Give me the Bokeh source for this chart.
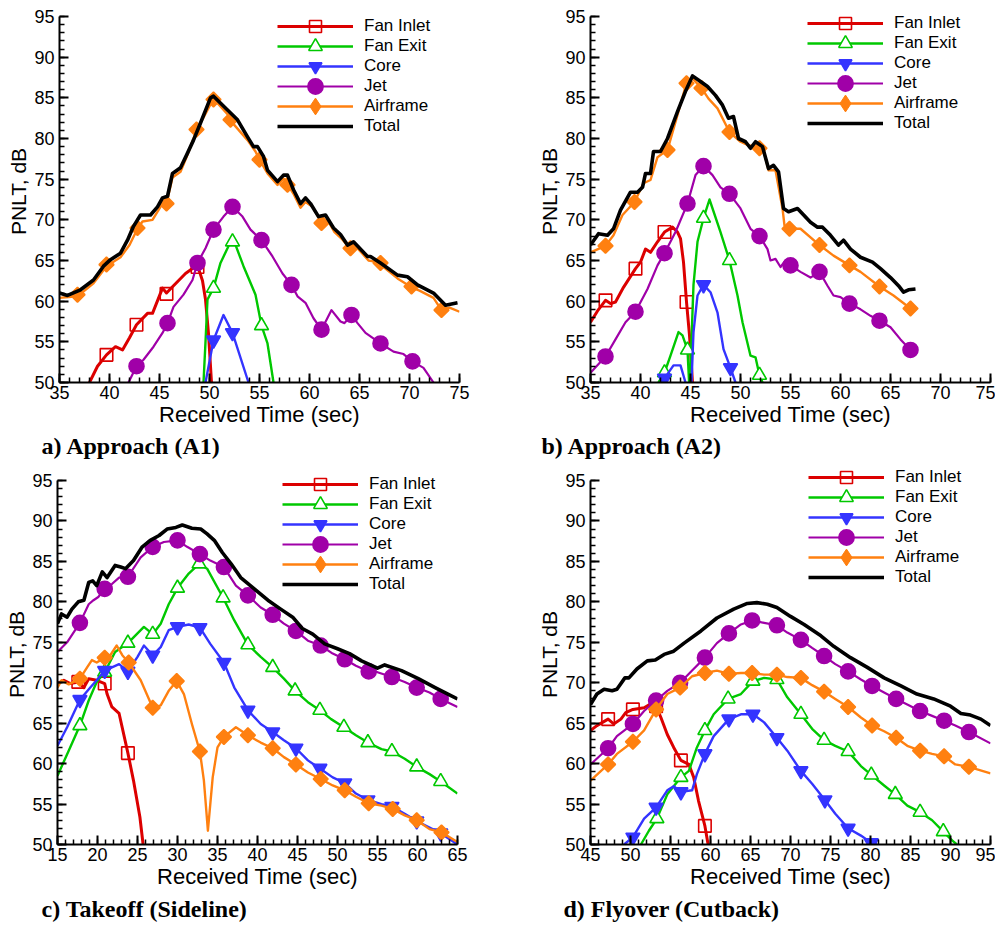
from bokeh.plotting import figure
from bokeh.models import Range1d, SingleIntervalTicker, Legend, LegendItem, Title
from bokeh.layouts import column, row
from bokeh.embed import file_html
from bokeh.resources import INLINE
import math

# ---------------- data ----------------
SERIES = ["Fan Inlet", "Fan Exit", "Core", "Jet", "Airframe", "Total"]

# Panel a) Approach (A1)
A_FI_T = [38.0, 38.8, 39.7, 40.6, 41.3, 42.0, 42.7, 43.8, 44.3, 45.3, 45.7, 46.4, 47.6, 48.4, 48.9, 49.3, 49.6, 49.9, 50.2]
A_FI_Y = [50.0, 52.0, 53.4, 54.4, 54.0, 55.5, 57.1, 58.5, 58.5, 61.6, 61.0, 61.9, 63.4, 64.1, 64.0, 62.5, 60.2, 56.0, 50.0]
A_FI_MT = [39.7, 42.7, 45.7, 48.8]
A_FI_MY = [53.4, 57.1, 60.9, 64.2]
A_FE_T = [49.4, 49.6, 49.8, 50.4, 51.1, 51.8, 52.3, 53.4, 54.6, 55.2, 55.8, 56.4]
A_FE_Y = [50.0, 55.0, 60.2, 61.6, 64.7, 66.5, 67.9, 64.3, 60.8, 57.0, 54.8, 50.0]
A_FE_MT = [50.4, 52.3, 55.2]
A_FE_MY = [61.6, 67.3, 57.0]
A_CO_T = [49.6, 50.4, 51.4, 52.3, 53.9]
A_CO_Y = [50.0, 55.2, 58.3, 56.1, 50.0]
A_CO_MT = [50.4, 52.3]
A_CO_MY = [55.2, 56.1]
A_JE_T = [41.9, 42.7, 43.4, 44.4, 45.3, 45.8, 46.4, 47.4, 48.3, 48.8, 49.6, 50.4, 51.4, 52.3, 53.3, 54.1, 55.2, 56.3,
          57.3, 58.2, 58.8, 59.6, 60.4, 61.2, 62.2, 63.1, 63.5, 64.2, 64.8, 65.6, 67.1, 68.4, 69.4, 70.3, 71.4, 72.4]
A_JE_Y = [50.0, 52.0, 52.8, 54.4, 56.1, 57.3, 59.3, 60.8, 62.6, 64.7, 66.5, 68.8, 70.4, 71.6, 70.4, 68.8, 67.5, 65.5,
          63.4, 62.0, 60.6, 59.8, 57.9, 56.5, 58.9, 57.5, 57.3, 58.3, 57.3, 56.1, 54.8, 53.8, 53.5, 52.6, 51.8, 50.0]
A_JE_MT = [42.7, 45.8, 48.8, 50.4, 52.3, 55.2, 58.2, 61.2, 64.2, 67.1, 70.3]
A_JE_MY = [52.0, 57.3, 64.7, 68.8, 71.6, 67.5, 62.0, 56.5, 58.3, 54.8, 52.6]
A_AF_T = [35.0, 36.8, 38.4, 39.7, 41.1, 42.0, 42.8, 43.3, 44.3, 45.2, 45.7, 46.3, 47.1, 47.8, 48.7, 49.5, 50.4, 51.8,
          52.1, 53.8, 54.6, 55.0, 55.8, 56.8, 57.4, 57.8, 58.4, 59.1, 59.6, 60.3, 61.2, 61.8, 62.5, 63.2, 64.1, 64.6,
          65.9, 66.4, 67.1, 68.8, 70.2, 71.0, 72.4, 73.2, 74.0, 75.0]
A_AF_Y = [60.4, 60.6, 62.2, 64.3, 65.4, 66.9, 68.9, 69.8, 70.0, 71.8, 72.0, 75.2, 75.9, 78.0, 81.0, 82.8, 84.9, 83.0,
          82.2, 79.8, 78.4, 77.4, 75.7, 74.3, 75.1, 74.4, 73.2, 71.5, 72.2, 71.6, 69.7, 70.0, 68.5, 67.7, 66.4, 66.8,
          65.0, 64.9, 64.5, 62.8, 61.7, 61.3, 60.4, 58.9, 59.2, 58.7]
A_AF_MT = [36.8, 39.7, 42.8, 45.7, 48.7, 50.4, 52.1, 55.0, 57.8, 61.2, 64.1, 67.1, 70.2, 73.2]
A_AF_MY = [60.8, 64.5, 69.0, 72.0, 81.1, 84.8, 82.3, 77.4, 74.3, 69.6, 66.5, 64.7, 61.8, 58.9]
A_TO_T = [35.0, 35.8, 37.1, 38.4, 39.4, 40.1, 41.1, 41.8, 42.4, 43.1, 44.1, 44.8, 45.3, 45.8, 46.3, 47.1, 47.8, 48.4,
          49.1, 50.1, 50.4, 51.8, 52.8, 53.8, 54.4, 54.8, 55.4, 55.8, 56.8, 57.4, 57.8, 58.4, 59.1, 59.6, 60.1, 60.9,
          61.6, 62.4, 63.1, 63.8, 64.4, 65.8, 66.1, 67.1, 68.8, 69.8, 70.8, 72.4, 73.6, 74.8]
A_TO_Y = [61.0, 60.7, 61.4, 62.6, 64.3, 65.1, 65.9, 67.5, 69.2, 70.6, 70.6, 71.6, 72.7, 72.9, 75.7, 76.4, 78.2, 79.8,
          81.9, 85.0, 85.2, 83.5, 82.3, 80.2, 79.0, 79.0, 77.8, 76.1, 74.7, 75.5, 75.5, 73.7, 72.0, 72.7, 72.0, 70.4,
          70.6, 69.0, 68.2, 66.9, 67.3, 65.5, 65.5, 64.7, 63.2, 63.0, 62.0, 61.0, 59.5, 59.8]

# Panel b) Approach (A2)
B_FI_T = [35.0, 35.7, 36.5, 37.0, 37.5, 38.3, 39.5, 40.0, 40.5, 41.0, 41.7, 42.4, 43.2, 43.7, 44.0, 44.3, 44.6, 44.9, 45.2]
B_FI_Y = [57.4, 58.8, 60.1, 59.7, 59.9, 61.7, 64.0, 64.8, 66.4, 66.0, 67.3, 68.5, 69.1, 68.5, 67.7, 64.8, 59.9, 55.8, 50.0]
B_FI_MT = [36.5, 39.5, 42.4, 44.6]
B_FI_MY = [60.1, 64.0, 68.5, 59.9]
B_FE_T = [41.8, 42.4, 43.0, 43.8, 44.2, 44.7, 44.9, 45.0, 45.3, 45.7, 46.3, 46.9, 48.0, 48.9, 49.7, 50.2, 51.0, 51.5, 51.9, 52.2]
B_FE_Y = [50.0, 51.2, 53.3, 56.2, 55.8, 54.0, 49.0, 52.0, 62.0, 67.3, 70.2, 72.5, 68.5, 65.0, 60.7, 57.4, 53.3, 53.1, 50.9, 50.0]
B_FE_MT = [42.4, 44.7, 46.3, 48.9, 51.9]
B_FE_MY = [51.2, 54.0, 70.2, 65.0, 50.9]
B_CO_T = [42.0, 42.4, 43.3, 44.0, 44.5, 44.8, 45.1, 45.3, 45.7, 46.3, 47.0, 47.7, 48.3, 49.0, 49.5]
B_CO_Y = [50.0, 50.5, 52.1, 52.1, 50.0, 47.0, 50.0, 56.2, 60.7, 62.0, 61.1, 58.6, 54.1, 51.8, 50.0]
B_CO_MT = [42.4, 46.3, 49.0]
B_CO_MY = [50.5, 62.0, 51.8]
B_JE_T = [35.0, 36.5, 37.5, 38.5, 39.5, 40.7, 41.7, 42.4, 43.5, 44.7, 45.5, 46.3, 47.2, 48.0, 48.9, 50.0, 51.0, 51.9,
          52.7, 53.0, 53.5, 54.0, 54.5, 55.0, 56.0, 57.0, 57.9, 58.7, 59.3, 60.0, 60.9, 62.0, 63.0, 63.9, 65.0, 66.0, 67.0]
B_JE_Y = [51.2, 53.2, 55.3, 57.4, 58.7, 61.5, 64.4, 65.9, 68.5, 72.0, 75.5, 76.6, 75.5, 74.0, 73.2, 71.4, 68.9, 68.0,
          66.4, 65.0, 65.2, 64.2, 65.0, 64.4, 63.6, 62.9, 63.6, 61.9, 60.7, 60.5, 59.7, 59.0, 58.2, 57.6, 56.8, 55.3, 54.0]
B_JE_MT = [36.5, 39.5, 42.4, 44.7, 46.3, 48.9, 51.9, 55.0, 57.9, 60.9, 63.9, 67.0]
B_JE_MY = [53.2, 58.7, 65.9, 72.0, 76.6, 73.2, 68.0, 64.4, 63.6, 59.7, 57.6, 54.0]
B_AF_T = [35.0, 36.5, 37.3, 38.2, 39.4, 40.3, 41.0, 41.7, 42.7, 43.7, 44.6, 45.2, 46.1, 46.8, 47.7, 48.9, 50.0, 50.7,
          51.9, 52.3, 52.8, 53.5, 54.2, 54.4, 54.9, 56.0, 57.9, 59.3, 60.9, 62.0, 63.9, 65.3, 67.0]
B_AF_Y = [66.0, 66.8, 68.1, 70.6, 72.2, 74.5, 74.9, 77.7, 78.6, 82.9, 86.8, 87.4, 86.2, 84.9, 83.7, 80.8, 79.6, 79.2,
          78.8, 78.6, 76.1, 76.1, 71.4, 69.3, 68.9, 68.9, 66.9, 65.6, 64.4, 63.6, 61.8, 60.7, 59.1]
B_AF_MT = [36.5, 39.4, 42.7, 44.6, 46.1, 48.9, 51.9, 54.9, 57.9, 60.9, 63.9, 67.0]
B_AF_MY = [66.8, 72.2, 78.6, 86.8, 86.2, 80.8, 78.8, 68.9, 66.9, 64.4, 61.8, 59.1]
B_TO_T = [35.0, 35.8, 36.7, 37.3, 38.0, 39.0, 39.7, 40.2, 40.5, 41.0, 41.3, 42.0, 42.7, 43.7, 44.5, 45.2, 46.0, 46.7,
          47.5, 48.2, 48.8, 49.3, 49.8, 50.5, 51.0, 51.5, 52.2, 52.8, 53.3, 53.8, 54.3, 54.8, 55.7, 57.0, 57.7, 58.2,
          59.0, 59.8, 60.3, 61.0, 62.0, 63.2, 64.0, 65.0, 65.8, 66.3, 66.8, 67.5]
B_TO_Y = [66.9, 68.3, 68.1, 68.9, 71.2, 73.4, 73.4, 74.0, 75.7, 75.7, 78.4, 78.4, 80.0, 83.3, 85.8, 87.7, 87.0, 86.4,
          85.3, 84.1, 82.5, 82.7, 80.0, 79.6, 78.8, 79.6, 79.0, 76.3, 76.7, 75.9, 71.4, 71.0, 71.4, 69.7, 69.1, 69.1,
          68.1, 66.9, 67.5, 66.4, 65.4, 64.8, 64.0, 62.9, 61.9, 61.1, 61.4, 61.5]

# Panel c) Takeoff (Sideline)
C_FI_T = [15.0, 15.8, 16.6, 17.6, 18.3, 18.9, 19.9, 20.9, 21.2, 21.8, 22.7, 23.8, 24.5, 25.3, 25.7]
C_FI_Y = [69.9, 70.3, 69.9, 70.1, 69.4, 70.5, 70.3, 69.9, 68.6, 67.0, 66.2, 61.3, 57.9, 53.4, 50.0]
C_FI_MT = [17.6, 20.9, 23.8]
C_FI_MY = [70.1, 69.9, 61.3]
C_FE_T = [15.0, 16.4, 17.8, 18.9, 19.9, 20.9, 22.2, 23.8, 25.8, 26.9, 27.9, 28.9, 30.0, 31.4, 32.7, 33.7, 35.7, 37.1,
          38.8, 40.4, 41.9, 43.3, 44.7, 46.3, 47.8, 49.2, 50.8, 52.3, 53.8, 55.5, 56.8, 58.4, 59.9, 61.5, 62.9, 65.0]
C_FE_Y = [58.5, 61.6, 64.7, 67.8, 70.1, 71.3, 73.8, 74.9, 76.9, 76.0, 77.3, 79.7, 81.7, 83.5, 84.7, 84.1, 80.5, 77.7,
          74.7, 73.2, 71.9, 70.5, 69.0, 67.6, 66.6, 65.5, 64.5, 63.5, 62.6, 61.8, 61.5, 60.6, 59.6, 58.7, 57.8, 56.3]
C_FE_MT = [17.8, 20.9, 23.8, 26.9, 30.0, 32.7, 35.7, 38.8, 41.9, 44.7, 47.8, 50.8, 53.8, 56.8, 59.9, 62.9]
C_FE_MY = [64.7, 71.3, 74.9, 76.0, 81.7, 84.7, 80.5, 74.7, 71.9, 69.0, 66.6, 64.5, 62.6, 61.5, 59.6, 57.8]
C_CO_T = [15.0, 16.2, 17.8, 19.1, 19.9, 20.9, 22.7, 23.8, 25.0, 25.8, 26.9, 27.9, 28.9, 30.0, 31.4, 32.8, 34.1, 35.8,
          37.1, 38.8, 40.4, 41.9, 43.3, 44.8, 46.3, 47.8, 49.4, 50.9, 52.3, 53.8, 55.5, 56.8, 58.4, 59.9, 61.5, 62.9, 65.0]
C_CO_Y = [62.2, 64.5, 67.9, 69.4, 70.3, 71.5, 72.3, 71.4, 73.2, 74.6, 73.4, 74.4, 76.5, 76.9, 77.2, 76.8, 74.8, 72.5,
          69.4, 66.6, 64.9, 63.9, 62.9, 61.9, 60.4, 59.4, 58.3, 57.6, 56.3, 55.5, 55.0, 54.7, 53.8, 52.9, 52.1, 51.4, 50.0]
C_CO_MT = [17.8, 20.9, 23.8, 26.9, 30.0, 32.8, 35.8, 38.8, 41.9, 44.8, 47.8, 50.9, 53.8, 56.8, 59.9, 62.9]
C_CO_MY = [67.9, 71.5, 71.4, 73.4, 76.9, 76.8, 72.5, 66.6, 63.9, 61.9, 59.4, 57.6, 55.5, 54.7, 52.9, 51.4]
C_JE_T = [15.0, 16.2, 17.8, 18.9, 19.5, 20.1, 20.9, 21.8, 22.7, 23.8, 25.4, 26.9, 28.3, 30.0, 31.2, 32.8, 34.1, 35.8,
          37.3, 38.8, 40.4, 41.9, 43.3, 44.8, 46.3, 47.9, 49.4, 50.9, 52.3, 53.9, 55.0, 56.8, 58.4, 59.9, 61.5, 62.9, 65.0]
C_JE_Y = [73.8, 75.0, 77.4, 79.7, 80.2, 80.6, 81.6, 82.2, 83.0, 83.1, 85.5, 86.8, 87.4, 87.6, 86.8, 85.9, 85.1, 84.3,
          82.0, 80.8, 79.3, 78.4, 77.3, 76.4, 75.2, 74.6, 73.6, 72.9, 72.1, 71.4, 71.3, 70.7, 70.1, 69.4, 68.8, 68.0, 67.0]
C_JE_MT = [17.8, 20.9, 23.8, 26.9, 30.0, 32.8, 35.8, 38.8, 41.9, 44.8, 47.9, 50.9, 53.9, 56.8, 59.9, 62.9]
C_JE_MY = [77.4, 81.6, 83.1, 86.8, 87.6, 85.9, 84.3, 80.8, 78.4, 76.4, 74.6, 72.9, 71.4, 70.7, 69.4, 68.0]
C_AF_T = [15.0, 15.5, 16.4, 17.8, 18.7, 19.3, 19.9, 20.9, 21.6, 22.4, 23.1, 23.9, 25.4, 26.9, 27.9, 28.9, 29.9, 30.8,
          31.8, 32.8, 33.3, 33.8, 34.4, 35.0, 35.8, 37.3, 38.8, 40.4, 41.9, 43.3, 44.8, 46.3, 47.9, 49.4, 50.9, 52.3,
          53.9, 55.5, 56.9, 58.4, 59.9, 61.5, 63.0, 65.0]
C_AF_Y = [69.4, 70.3, 69.8, 70.5, 71.9, 72.8, 72.5, 73.1, 73.4, 74.6, 73.4, 72.5, 70.3, 66.9, 67.2, 69.0, 70.2, 68.6,
          64.9, 61.5, 57.9, 51.7, 58.3, 62.0, 63.3, 64.5, 63.5, 62.6, 61.9, 60.8, 59.9, 58.9, 58.1, 57.3, 56.7, 55.9,
          55.1, 54.8, 54.4, 53.6, 53.0, 51.9, 51.5, 50.3]
C_AF_MT = [17.8, 20.9, 23.9, 26.9, 29.9, 32.8, 35.8, 38.8, 41.9, 44.8, 47.9, 50.9, 53.9, 56.9, 59.9, 63.0]
C_AF_MY = [70.5, 73.1, 72.5, 66.9, 70.2, 61.5, 63.3, 63.5, 61.9, 59.9, 58.1, 56.7, 55.1, 54.4, 53.0, 51.5]
C_TO_T = [15.0, 15.5, 16.2, 16.8, 17.6, 18.3, 18.9, 19.4, 19.9, 20.6, 21.2, 22.2, 22.9, 23.5, 24.5, 25.6, 26.6, 27.7,
          28.7, 29.8, 30.6, 31.8, 32.9, 33.7, 34.6, 35.6, 36.7, 37.9, 39.6, 41.3, 42.9, 44.4, 45.6, 46.9, 48.4, 50.0,
          51.5, 53.0, 55.0, 55.9, 58.0, 60.1, 62.2, 63.8, 65.0]
C_TO_Y = [77.3, 78.5, 78.1, 79.1, 80.0, 80.2, 82.4, 82.6, 82.0, 83.7, 83.0, 84.5, 84.3, 84.1, 85.1, 86.8, 87.6, 88.2,
          89.0, 89.2, 89.5, 89.1, 89.0, 88.4, 87.6, 86.1, 84.7, 83.0, 81.6, 80.2, 79.1, 78.1, 76.7, 76.0, 74.8, 74.2,
          73.6, 72.7, 71.8, 72.2, 71.5, 70.5, 69.4, 68.6, 68.0]

# Panel d) Flyover (Cutback)
D_FI_T = [45.0, 45.8, 47.2, 47.9, 48.8, 49.4, 50.3, 51.7, 52.7, 53.2, 53.8, 54.6, 55.4, 56.3, 57.3, 57.9, 58.5, 59.3, 59.7]
D_FI_Y = [64.1, 64.7, 65.5, 64.9, 65.5, 66.3, 66.7, 66.9, 67.5, 67.1, 65.7, 63.6, 62.0, 60.4, 59.9, 58.3, 55.4, 52.3, 50.0]
D_FI_MT = [47.2, 50.3, 53.2, 56.3, 59.3]
D_FI_MY = [65.5, 66.7, 67.1, 60.4, 52.3]
D_FE_T = [51.3, 52.3, 53.3, 54.6, 56.3, 57.3, 58.3, 59.3, 60.4, 62.2, 63.8, 65.3, 66.7, 68.3, 69.6, 71.3, 72.7, 74.2,
          75.6, 77.2, 78.8, 80.1, 81.7, 83.1, 84.6, 86.2, 87.7, 89.1, 90.2, 90.8]
D_FE_Y = [50.0, 51.7, 53.2, 56.2, 58.3, 59.1, 62.0, 64.1, 66.1, 68.0, 68.6, 70.2, 70.6, 70.4, 68.2, 66.1, 64.3, 62.9,
          62.2, 61.5, 59.7, 58.6, 57.3, 56.2, 54.8, 54.0, 53.0, 51.6, 50.5, 50.0]
D_FE_MT = [53.3, 56.3, 59.3, 62.2, 65.3, 68.3, 71.3, 74.2, 77.2, 80.1, 83.1, 86.2, 89.1]
D_FE_MY = [53.2, 58.3, 64.1, 68.0, 70.2, 70.4, 66.1, 62.9, 61.5, 58.6, 56.2, 54.0, 51.6]
D_CO_T = [49.2, 50.3, 51.7, 53.2, 54.6, 55.4, 56.3, 57.7, 58.3, 59.3, 60.4, 62.3, 63.8, 65.3, 66.7, 68.3, 69.6, 71.3,
          72.7, 74.3, 75.6, 77.2, 78.8, 80.1, 80.8]
D_CO_Y = [50.0, 50.9, 53.2, 54.6, 56.7, 57.2, 56.5, 56.7, 58.7, 61.2, 63.4, 65.5, 66.1, 66.1, 65.1, 63.2, 61.6, 59.1,
          57.5, 55.5, 53.8, 52.0, 51.1, 50.2, 50.0]
D_CO_MT = [50.3, 53.2, 56.3, 59.3, 62.3, 65.3, 68.3, 71.3, 74.3, 77.2, 80.1]
D_CO_MY = [50.9, 54.6, 56.5, 61.2, 65.5, 66.1, 63.2, 59.1, 55.5, 52.0, 50.2]
D_JE_T = [45.0, 47.2, 48.3, 50.3, 51.7, 53.2, 54.6, 56.2, 57.7, 59.3, 60.8, 62.3, 63.8, 65.2, 66.7, 68.3, 69.6, 71.3,
          72.7, 74.2, 75.6, 77.2, 78.8, 80.2, 81.7, 83.2, 84.6, 86.2, 87.7, 89.2, 90.6, 92.3, 95.0]
D_JE_Y = [59.9, 61.9, 63.4, 64.9, 66.5, 67.8, 69.0, 70.0, 71.5, 73.1, 74.9, 76.1, 77.2, 77.7, 77.4, 77.1, 76.2, 75.3,
          74.3, 73.3, 72.3, 71.4, 70.4, 69.6, 68.8, 68.0, 67.3, 66.5, 65.9, 65.3, 64.7, 63.9, 62.5]
D_JE_MT = [47.2, 50.3, 53.2, 56.2, 59.3, 62.3, 65.2, 68.3, 71.3, 74.2, 77.2, 80.2, 83.2, 86.2, 89.2, 92.3]
D_JE_MY = [61.9, 64.9, 67.8, 70.0, 73.1, 76.1, 77.7, 77.1, 75.3, 73.3, 71.4, 69.6, 68.0, 66.5, 65.3, 63.9]
D_AF_T = [45.0, 47.2, 48.3, 50.3, 51.7, 53.2, 54.6, 56.2, 57.7, 59.3, 60.8, 62.3, 63.8, 65.2, 66.7, 68.3, 69.6, 71.3,
          72.7, 74.2, 75.6, 77.2, 78.8, 80.2, 81.7, 83.2, 84.6, 86.2, 87.7, 89.2, 90.6, 92.3, 95.0]
D_AF_Y = [57.9, 59.9, 61.2, 62.7, 64.1, 66.7, 68.6, 69.4, 70.8, 71.2, 71.5, 71.1, 71.2, 71.2, 71.0, 71.0, 70.7, 70.6,
          69.7, 68.9, 68.0, 67.0, 65.7, 64.7, 64.0, 63.2, 62.2, 61.6, 61.2, 60.9, 59.9, 59.6, 58.8]
D_AF_MT = [47.2, 50.3, 53.2, 56.2, 59.3, 62.3, 65.2, 68.3, 71.3, 74.2, 77.2, 80.2, 83.2, 86.2, 89.2, 92.3]
D_AF_MY = [59.9, 62.7, 66.7, 69.4, 71.2, 71.1, 71.2, 71.0, 70.6, 68.9, 67.0, 64.7, 63.2, 61.6, 60.9, 59.6]
D_TO_T = [45.0, 45.8, 46.7, 47.7, 48.3, 49.3, 49.8, 50.8, 52.1, 53.1, 54.2, 55.4, 56.7, 58.8, 60.8, 62.9, 64.6, 65.8,
          67.1, 68.3, 70.0, 71.7, 73.8, 75.4, 77.5, 79.6, 81.7, 83.8, 85.8, 87.9, 90.0, 91.3, 92.5, 93.8, 95.0]
D_TO_Y = [67.3, 68.6, 69.2, 69.0, 69.2, 70.6, 70.6, 71.7, 72.7, 72.8, 73.5, 73.9, 74.9, 76.4, 78.0, 79.1, 79.8, 79.9,
          79.7, 79.3, 78.2, 77.2, 75.8, 74.5, 73.1, 71.9, 70.6, 69.6, 68.6, 68.0, 67.1, 66.2, 66.0, 65.5, 64.7]

CAPTIONS = ["a) Approach (A1)", "b) Approach (A2)", "c) Takeoff (Sideline)", "d) Flyover (Cutback)"]
X_RANGES = [(35, 75), (35, 75), (15, 65), (45, 95)]
Y_AXIS = (50, 95)     # drawn axis extent
Y_VIEW_TOP = 97       # a little head-room above 95 so the legend is not clipped

# ---------------- styles ----------------
STYLE = {
    "Fan Inlet": dict(color="#dc0000", lw=3.0, marker="square", size=12.5, fill=None, gh=30),
    "Fan Exit": dict(color="#00c800", lw=2.4, marker="triangle", size=14, fill="white", gh=34),
    "Core": dict(color="#3434ff", lw=2.4, marker="inverted_triangle", size=14, fill="#3434ff", gh=32),
    "Jet": dict(color="#a000a8", lw=2.2, marker="circle", size=15, fill="#a000a8", gh=38),
    "Airframe": dict(color="#ff8010", lw=2.4, marker="square", size=10.5, fill="#ff8010", gh=42),
    "Total": dict(color="black", lw=3.6, marker=None, gh=20),
}
ROW_STEP = 20


def make_panel(idx, series, geom):
    left, right, top, bottom, h95, leg_x, leg_c0, cap_off, cap_standoff = geom
    px_per_db = h95 / (Y_AXIS[1] - Y_AXIS[0])
    fh = int(round(px_per_db * (Y_VIEW_TOP - Y_AXIS[0])))
    p = figure(frame_width=400, frame_height=fh,
               x_range=Range1d(*X_RANGES[idx]), y_range=Range1d(Y_AXIS[0], Y_AXIS[0] + fh / px_per_db),
               output_backend="svg", toolbar_location=None,
               min_border_left=left, min_border_right=right,
               min_border_top=top, min_border_bottom=bottom)
    p.outline_line_color = None
    p.xgrid.visible = False
    p.ygrid.visible = False
    p.background_fill_color = "white"
    for ax, lab, fs in ((p.xaxis[0], "Received Time (sec)", "22px"), (p.yaxis[0], "PNLT, dB", "21px")):
        ax.ticker = SingleIntervalTicker(interval=5, num_minor_ticks=5)
        ax.axis_label = lab
        ax.axis_label_text_font = "Liberation Sans"
        ax.axis_label_text_font_size = fs
        ax.axis_label_text_font_style = "normal"
        ax.axis_label_text_color = "black"
        ax.major_label_text_font = "Liberation Sans"
        ax.major_label_text_font_size = "18px"
        ax.major_label_text_color = "black"
        ax.axis_line_width = 2
        ax.axis_line_color = "black"
        ax.major_tick_in = 9
        ax.major_tick_out = 0
        ax.minor_tick_in = 5
        ax.minor_tick_out = 0
        ax.major_tick_line_width = 2
        ax.minor_tick_line_width = 1.5
    p.yaxis.bounds = Y_AXIS
    p.xaxis.major_label_standoff = 3
    p.xaxis.axis_label_standoff = 0
    p.yaxis.major_label_standoff = 5
    p.yaxis.axis_label_standoff = 1

    for i, name in enumerate(SERIES):
        s = series[name]
        st = STYLE[name]
        rl = p.line(s[0], s[1], line_color=st["color"], line_width=st["lw"], line_join="round")
        rends = [rl]
        if name == "Airframe":
            # diamond used for the legend key; it is drawn under the plotted markers
            rleg = p.scatter(s[2], s[3], marker="diamond", size=13, line_color=st["color"],
                             line_width=1.0, fill_color=st["fill"])
            rends.append(rleg)
            # plotted markers: square turned by 45 degrees
            p.scatter(s[2], s[3], marker="square", size=st["size"], angle=math.pi / 4,
                      line_color=st["color"], line_width=1.6, fill_color=st["fill"])
        elif st["marker"] is not None:
            rm = p.scatter(s[2], s[3], marker=st["marker"], size=st["size"],
                           line_color=st["color"], line_width=1.6,
                           fill_color=st["fill"] if st["fill"] else None,
                           fill_alpha=1.0 if st["fill"] else 0.0)
            rends.append(rm)
        gh = st["gh"]
        center = leg_c0 + ROW_STEP * i          # row centre, px below the 95 dB line
        vy = h95 - (center + gh / 2)            # legend bottom, px above frame bottom
        leg = Legend(items=[LegendItem(label=name, renderers=rends)], location=(leg_x, vy),
                     orientation="vertical", glyph_width=76, glyph_height=gh, label_height=20,
                     spacing=0, padding=0, margin=0, label_standoff=11,
                     border_line_color=None, background_fill_alpha=0.0,
                     label_text_font="Liberation Sans", label_text_font_size="17px",
                     label_text_color="black")
        p.add_layout(leg)

    cap = Title(text=CAPTIONS[idx], align="left", offset=cap_off,
                text_font="Liberation Serif", text_font_style="bold",
                text_font_size="24px", text_color="black", standoff=cap_standoff)
    p.add_layout(cap, "below")
    return p


SER_A = {"Fan Inlet": (A_FI_T, A_FI_Y, A_FI_MT, A_FI_MY), "Fan Exit": (A_FE_T, A_FE_Y, A_FE_MT, A_FE_MY),
         "Core": (A_CO_T, A_CO_Y, A_CO_MT, A_CO_MY), "Jet": (A_JE_T, A_JE_Y, A_JE_MT, A_JE_MY),
         "Airframe": (A_AF_T, A_AF_Y, A_AF_MT, A_AF_MY), "Total": (A_TO_T, A_TO_Y)}
SER_B = {"Fan Inlet": (B_FI_T, B_FI_Y, B_FI_MT, B_FI_MY), "Fan Exit": (B_FE_T, B_FE_Y, B_FE_MT, B_FE_MY),
         "Core": (B_CO_T, B_CO_Y, B_CO_MT, B_CO_MY), "Jet": (B_JE_T, B_JE_Y, B_JE_MT, B_JE_MY),
         "Airframe": (B_AF_T, B_AF_Y, B_AF_MT, B_AF_MY), "Total": (B_TO_T, B_TO_Y)}
SER_C = {"Fan Inlet": (C_FI_T, C_FI_Y, C_FI_MT, C_FI_MY), "Fan Exit": (C_FE_T, C_FE_Y, C_FE_MT, C_FE_MY),
         "Core": (C_CO_T, C_CO_Y, C_CO_MT, C_CO_MY), "Jet": (C_JE_T, C_JE_Y, C_JE_MT, C_JE_MY),
         "Airframe": (C_AF_T, C_AF_Y, C_AF_MT, C_AF_MY), "Total": (C_TO_T, C_TO_Y)}
SER_D = {"Fan Inlet": (D_FI_T, D_FI_Y, D_FI_MT, D_FI_MY), "Fan Exit": (D_FE_T, D_FE_Y, D_FE_MT, D_FE_MY),
         "Core": (D_CO_T, D_CO_Y, D_CO_MT, D_CO_MY), "Jet": (D_JE_T, D_JE_Y, D_JE_MT, D_JE_MY),
         "Airframe": (D_AF_T, D_AF_Y, D_AF_MT, D_AF_MY), "Total": (D_TO_T, D_TO_Y)}

# geometry: left, right, top, bottom, 50-95 dB height, legend x, first legend row centre (below 95 line),
#           caption offset, caption standoff
pa = make_panel(0, SER_A, (59, 41, 0, 82, 366, 218, 10, -18, 2))
pb = make_panel(1, SER_B, (90, 5, 0, 82, 366, 217, 7, -49, 2))
pc = make_panel(2, SER_C, (57, 43, 0, 80, 364, 225, 4, -16, 4))
pd = make_panel(3, SER_D, (90, 5, 0, 80, 364, 218, -3, -27, 4))

layout = column(row(pa, pb), row(pc, pd))
open("out.html", "w").write(file_html(layout, INLINE))
